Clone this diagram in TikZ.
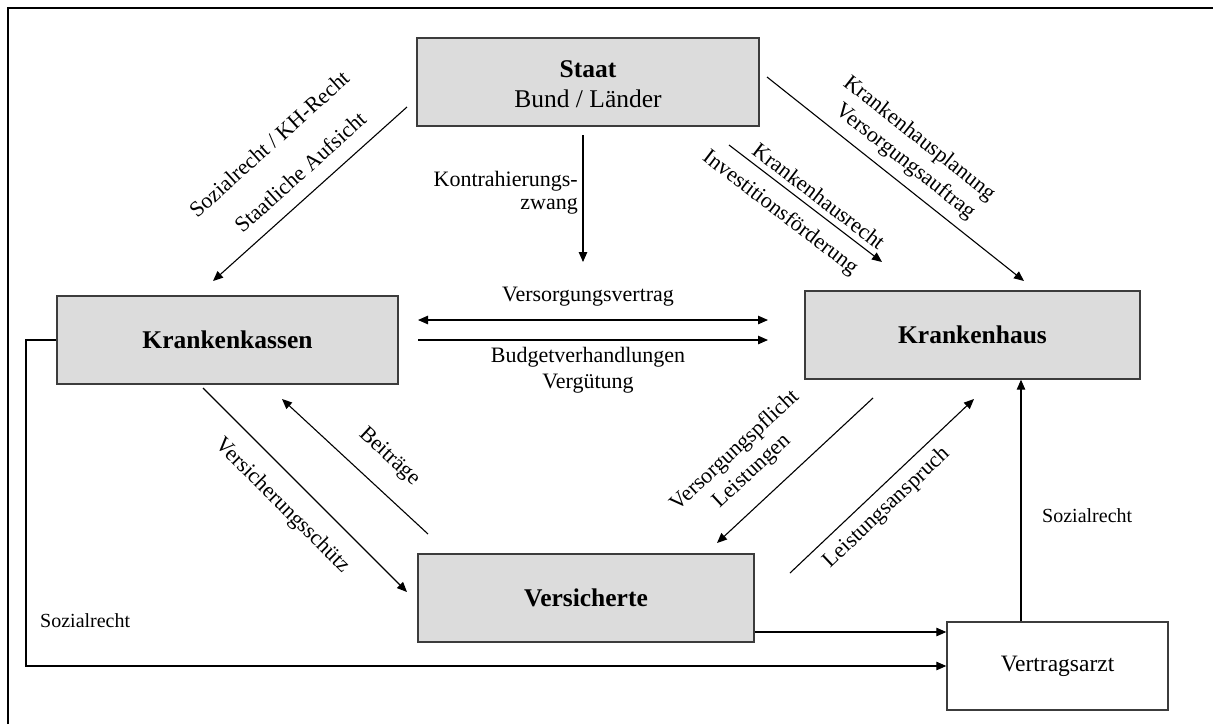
\documentclass[tikz,border=0pt]{standalone}
\usepackage{fontspec}
\setmainfont{Liberation Serif}
\usetikzlibrary{arrows.meta,calc}

\definecolor{boxfill}{RGB}{220,220,220}
\definecolor{boxline}{RGB}{60,60,60}

\begin{document}
\begin{tikzpicture}[x=1pt,y=-1pt,
  box/.style={draw=boxline, line width=1.4pt, fill=boxfill, inner sep=0pt,
    minimum height=88pt, align=center,
    font=\fontsize{25.5}{30.5}\selectfont\bfseries},
  plainbox/.style={box, fill=white, font=\fontsize{23.5}{28}\selectfont},
  lbl/.style={inner sep=0pt, font=\fontsize{22}{26}\selectfont},
  small/.style={inner sep=0pt, font=\fontsize{20}{24}\selectfont},
  arr/.style={line width=1.1pt, -{Triangle[length=10pt,width=8.5pt]}},
  darr/.style={line width=1.1pt, {Triangle[length=10pt,width=8.5pt]}-{Triangle[length=10pt,width=8.5pt]}},
]
\useasboundingbox (0,0) rectangle (1213,724);

% frame along top and left edge
\draw[line width=2pt] (8,724) -- (8,8) -- (1213,8);

% actors
\node[box, minimum width=342pt, text height=52pt] (staat) at (588,82)
  {Staat\\[0pt]\mdseries Bund / Länder};
\node[box, minimum width=341pt] (kk) at (227.5,340) {Krankenkassen};
\node[box, minimum width=335pt] (kh) at (972.5,335) {Krankenhaus};
\node[box, minimum width=336pt] (vers) at (586,598) {Versicherte};
\node[plainbox, minimum width=221pt] (arzt) at (1057.5,666) {Vertragsarzt};

% free ends of the relations
\coordinate (sA) at (407,107);  \coordinate (kA) at (213,281);
\coordinate (sB) at (583,135);  \coordinate (mB) at (583,262);
\coordinate (lV) at (418,320);  \coordinate (rV) at (768,320);
\coordinate (lB) at (418,340);  \coordinate (rB) at (768,340);
\coordinate (sC) at (729,145);  \coordinate (hC) at (882,262);
\coordinate (sD) at (767,77);   \coordinate (hD) at (1024,281);
\coordinate (kE) at (203,388);  \coordinate (vE) at (407,592);
\coordinate (vF) at (428,534);  \coordinate (kF) at (282,399);
\coordinate (hG) at (873,398);  \coordinate (vG) at (717,543);
\coordinate (vH) at (790,573);  \coordinate (hH) at (974,399);
\coordinate (colA) at (1021,0);
\coordinate (rowV) at (0,632);
\coordinate (lc) at (26,666);

% relations
\draw[arr] (sA) -- (kA);
\draw[arr] (sB) -- (mB);
\draw[darr] (lV) -- (rV);
\draw[arr] (lB) -- (rB);
\draw[arr] (sC) -- (hC);
\draw[arr] (sD) -- (hD);
\draw[arr] (kE) -- (vE);
\draw[arr] (vF) -- (kF);
\draw[arr] (hG) -- (vG);
\draw[arr] (vH) -- (hH);
\draw[arr] (arzt.north -| colA) -- (kh.south -| colA);
\draw[arr] (vers.east |- rowV) -- (arzt.west |- rowV);
\draw[arr] (kk.west) -| (lc) -- (arzt.west);

% relation labels
\node[lbl, rotate=42] (tSoz) at (269,144) {Sozialrecht / KH-Recht};
\node[lbl, rotate=42] (tAuf) at (300,172) {Staatliche Aufsicht};
\node[lbl, anchor=east, align=right, font=\fontsize{22}{23}\selectfont]
  (tKon) at (578,193) {Kontrahierungs-\\zwang};
\node[lbl, anchor=base] (tVV) at (588,301) {Versorgungsvertrag};
\node[lbl, align=center] (tBud) at (588,370) {Budgetverhandlungen\\Vergütung};
\node[lbl, rotate=-37.4] (tKHR) at (819,196) {Krankenhausrecht};
\node[lbl, rotate=-37.4] (tInv) at (780,213) {Investitionsförderung};
\node[lbl, rotate=-38.4] (tKHP) at (919,139) {Krankenhausplanung};
\node[lbl, rotate=-38.4] (tVA) at (905,162) {Versorgungsauftrag};
\node[lbl, rotate=-45] (tVS) at (282,506) {Versicherungsschütz};
\node[lbl, rotate=-42.8] (tBei) at (389,457) {Beiträge};
\node[lbl, rotate=42.9] (tVP) at (735,451) {Versorgungspflicht};
\node[lbl, rotate=42.9] (tLei) at (752,472) {Leistungen};
\node[lbl, rotate=43.4] (tLA) at (887,508) {Leistungsanspruch};
\node[small, anchor=base west] (tSR1) at (40,627) {Sozialrecht};
\node[small, anchor=base west] (tSR2) at (1042,522) {Sozialrecht};
\end{tikzpicture}
\end{document}
